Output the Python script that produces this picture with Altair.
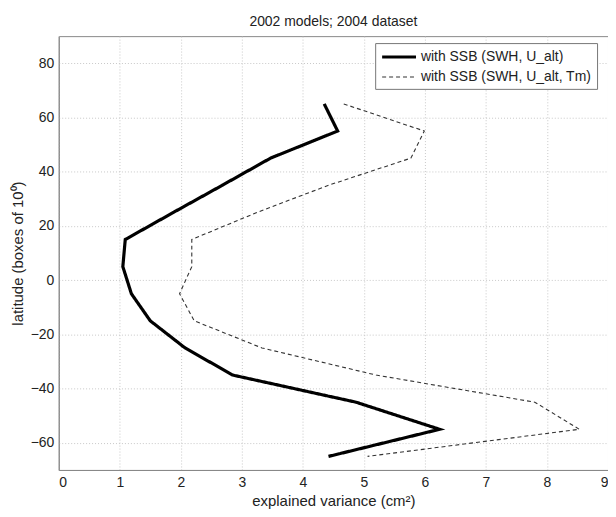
import altair as alt
import pandas as pd

# latitude band centres (boxes of 10 degrees)
latitudes = [65, 55, 45, 35, 25, 15, 5, -5, -15, -25, -35, -45, -55, -65]
# explained variance (cm^2)
ssb_swh_ualt = [4.35, 4.57, 3.47, 2.68, 1.88, 1.09, 1.05, 1.19, 1.50, 2.07, 2.85, 4.87, 6.24, 4.42]
ssb_swh_ualt_tm = [4.67, 5.99, 5.77, 4.42, 3.25, 2.18, 2.18, 1.98, 2.22, 3.33, 5.20, 7.80, 8.53, 5.06]

series_names = ["with SSB (SWH, U_alt)", "with SSB (SWH, U_alt, Tm)"]
x_ticks = [0, 1, 2, 3, 4, 5, 6, 7, 8, 9]
y_ticks = [-60, -40, -20, 0, 20, 40, 60, 80]

rows = []
for name, vals in zip(series_names, [ssb_swh_ualt, ssb_swh_ualt_tm]):
    for lat, v in zip(latitudes, vals):
        rows.append({"series": name, "lat": lat, "var": v})
df = pd.DataFrame(rows)

legend = alt.Legend(
    title=None,
    orient="none",
    legendX=318,
    legendY=7,
    fillColor="white",
    strokeColor="#777777",
    padding=5,
    symbolType="M-1,0H3.86",
    symbolSize=196,
    labelFontSize=14,
    labelLimit=300,
    labelOffset=23,
    rowPadding=5,
    labelColor="#222222",
)

chart = alt.Chart(df).mark_line().encode(
    x=alt.X("var:Q",
            scale=alt.Scale(domain=[0, 9], nice=False),
            axis=alt.Axis(values=x_ticks, title="explained variance (cm²)",
                          labelPadding=6, titlePadding=4, format="d")),
    y=alt.Y("lat:Q",
            scale=alt.Scale(domain=[-70, 90], nice=False),
            axis=alt.Axis(values=y_ticks, title="latitude (boxes of 10⁰)",
                          labelPadding=5, titlePadding=5, format="d")),
    color=alt.Color("series:N", scale=alt.Scale(domain=series_names, range=["#000000", "#333333"]), legend=legend),
    strokeDash=alt.StrokeDash("series:N", scale=alt.Scale(domain=series_names, range=[[1, 0], [4, 3]]), legend=legend),
    strokeWidth=alt.StrokeWidth("series:N", scale=alt.Scale(domain=series_names, range=[3.2, 1.1]), legend=legend),
    order=alt.Order("lat:Q", sort="descending"),
).properties(
    width=552,
    height=436,
    title=alt.TitleParams("2002 models; 2004 dataset", fontSize=14, fontWeight="normal",
                          anchor="middle", offset=7, color="#222222"),
    autosize=alt.AutoSizeParams(type="none"),
    padding={"left": 51, "top": 27, "right": 0, "bottom": 45},
).configure(
    font="Liberation Sans",
).configure_view(
    stroke="#888888",
    strokeWidth=1,
).configure_axis(
    grid=True,
    gridColor="#c8c8c8",
    gridDash=[1, 2],
    gridWidth=1,
    domainColor="#888888",
    ticks=False,
    labelFontSize=14,
    titleFontSize=15,
    titleFontWeight="normal",
    labelColor="#222222",
    titleColor="#222222",
)

chart.save("out.html", embed_options={"renderer": "svg", "actions": False})
